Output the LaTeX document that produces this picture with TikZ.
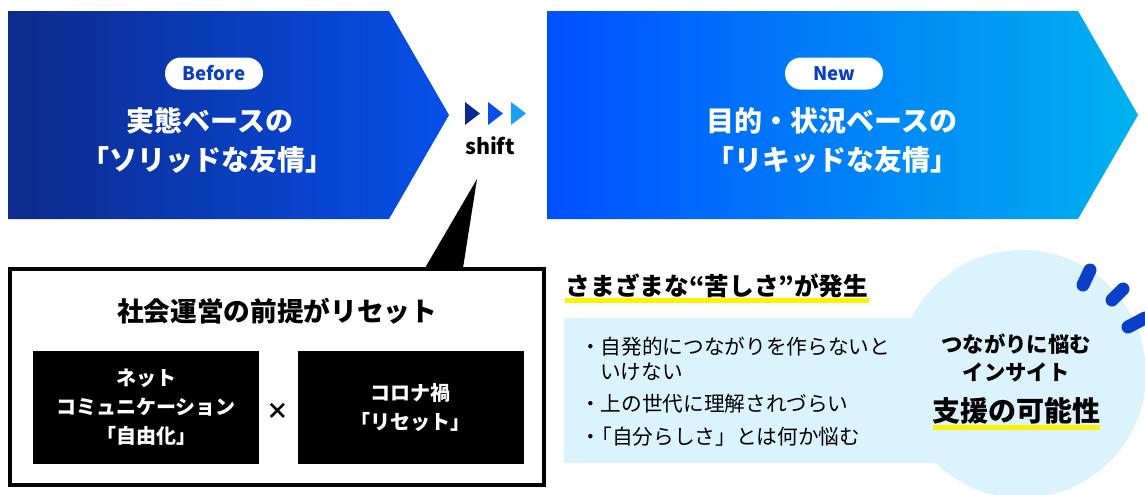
\documentclass[tikz,border=0pt]{standalone}
\usepackage{fontspec}
\setmainfont{Noto Sans CJK JP}
\usetikzlibrary{shapes.geometric}
\definecolor{navyL}{HTML}{0D2A8C}
\definecolor{blueM}{HTML}{0550EA}
\definecolor{blueR}{HTML}{0050FF}
\definecolor{cyanR}{HTML}{00B2F0}
\definecolor{pilltext}{HTML}{0C3FBF}
\definecolor{lightbg}{HTML}{DAF3FC}
\definecolor{hl}{HTML}{FFF200}
\definecolor{blipblue}{HTML}{0A40C8}
\definecolor{triA}{HTML}{0B2A8E}
\definecolor{triB}{HTML}{0A4DEA}
\definecolor{triC}{HTML}{1AA0F2}
\begin{document}
\begin{tikzpicture}[x=0.75pt,y=-0.75pt,
  pill/.style={fill=white,rounded corners=12pt,minimum width=73.5pt,minimum height=24pt,inner sep=0pt,text=pilltext,font=\fontsize{14}{16}\selectfont\bfseries},
  titletext/.style={text=white,font=\fontsize{21}{26}\selectfont\bfseries,align=center,inner sep=0pt},
  blackbox/.style={fill=black,minimum width=169.5pt,minimum height=84.75pt,inner sep=0pt,text=white,align=center,font=\fontsize{15}{21.75}\selectfont\bfseries},
  bullet/.style={anchor=west,inner sep=0pt,font=\fontsize{15.5}{18}\selectfont},
  insight/.style={inner sep=0pt,font=\fontsize{16}{19}\selectfont\bfseries},
  blip/.style={draw=blipblue,line width=9.75pt,line cap=round}
]
\useasboundingbox (0,0) rectangle (1145,494);

% arrows
\shade[left color=navyL,right color=blueM] (8,11) -- (389,11) -- (449,115) -- (389,219) -- (8,219) -- cycle;
\shade[left color=blueR,right color=cyanR] (547,11) -- (1078,11) -- (1138,115) -- (1078,219) -- (547,219) -- cycle;

\node[pill] (before) at (214,73.5) {Before};
\node[titletext] (beforeA) at (210,121) {実態ベースの};
\node[titletext] (beforeB) at (207,160) {「ソリッドな友情」};

\node[pill] (new) at (834,73.5) {New};
\node[titletext] (newA) at (832,121) {目的・状況ベースの};
\node[titletext] (newB) at (832,160) {「リキッドな友情」};

% shift triangles
\fill[triA] (465,102) -- (480,113.5) -- (465,125) -- cycle;
\fill[triB] (488,102) -- (503,113.5) -- (488,125) -- cycle;
\fill[triC] (511,102) -- (526,113.5) -- (511,125) -- cycle;
\node[inner sep=0pt,font=\fontsize{16}{18}\selectfont\bfseries] (shift) at (490,146) {shift};

% speech box
\coordinate (tailtip) at (477,179);
\coordinate (tailR) at (463,268);
\coordinate (tailL) at (425,268);
\fill[black] (tailtip) -- (tailR) -- (tailL) -- cycle;
\draw[line width=3pt,fill=white] (10,269) rectangle (544,485);
\node[inner sep=0pt,font=\fontsize{20}{24}\selectfont\bfseries] (reset) at (277,311) {社会運営の前提がリセット};
\node[blackbox] (net) at (146,407.5) {ネット\\コミュニケーション\\「自由化」};
\node[blackbox] (corona) at (410.5,407.5) {コロナ禍\\「リセット」};
\node[inner sep=0pt,font=\fontsize{17}{20}\selectfont\bfseries] (times) at (278,411) {×};

% right bottom
\fill[lightbg] (564,318) rectangle (960,463);
\fill[lightbg] (1022,374) circle[radius=124];
\draw[blip] (1083,285) -- (1090,270);
\draw[blip] (1112,300) -- (1123,289);
\draw[blip] (1128,327) -- (1145,318);

\fill[hl] (565,298) rectangle (869,303);
\node[inner sep=0pt,font=\fontsize{18.5}{22}\selectfont\bfseries] (hard) at (717,286) {さまざまな“苦しさ”が発生};

\node[bullet] (b1) at (580,347) {・自発的につながりを作らないと};
\node[bullet] (b1b) at (600,372) {いけない};
\node[bullet] (b2) at (580,404) {・上の世代に理解されづらい};
\node[bullet] (b3) at (580,437) {・\kern-0.45em「自分らしさ」とは何か悩む};

\fill[hl] (933,425) rectangle (1100,430);
\node[insight] (ins1) at (1016,344) {つながりに悩む};
\node[insight] (ins2) at (1016,372) {インサイト};
\node[inner sep=0pt,font=\fontsize{21}{24}\selectfont\bfseries] (support) at (1016,411) {支援の可能性};
\end{tikzpicture}
\end{document}
